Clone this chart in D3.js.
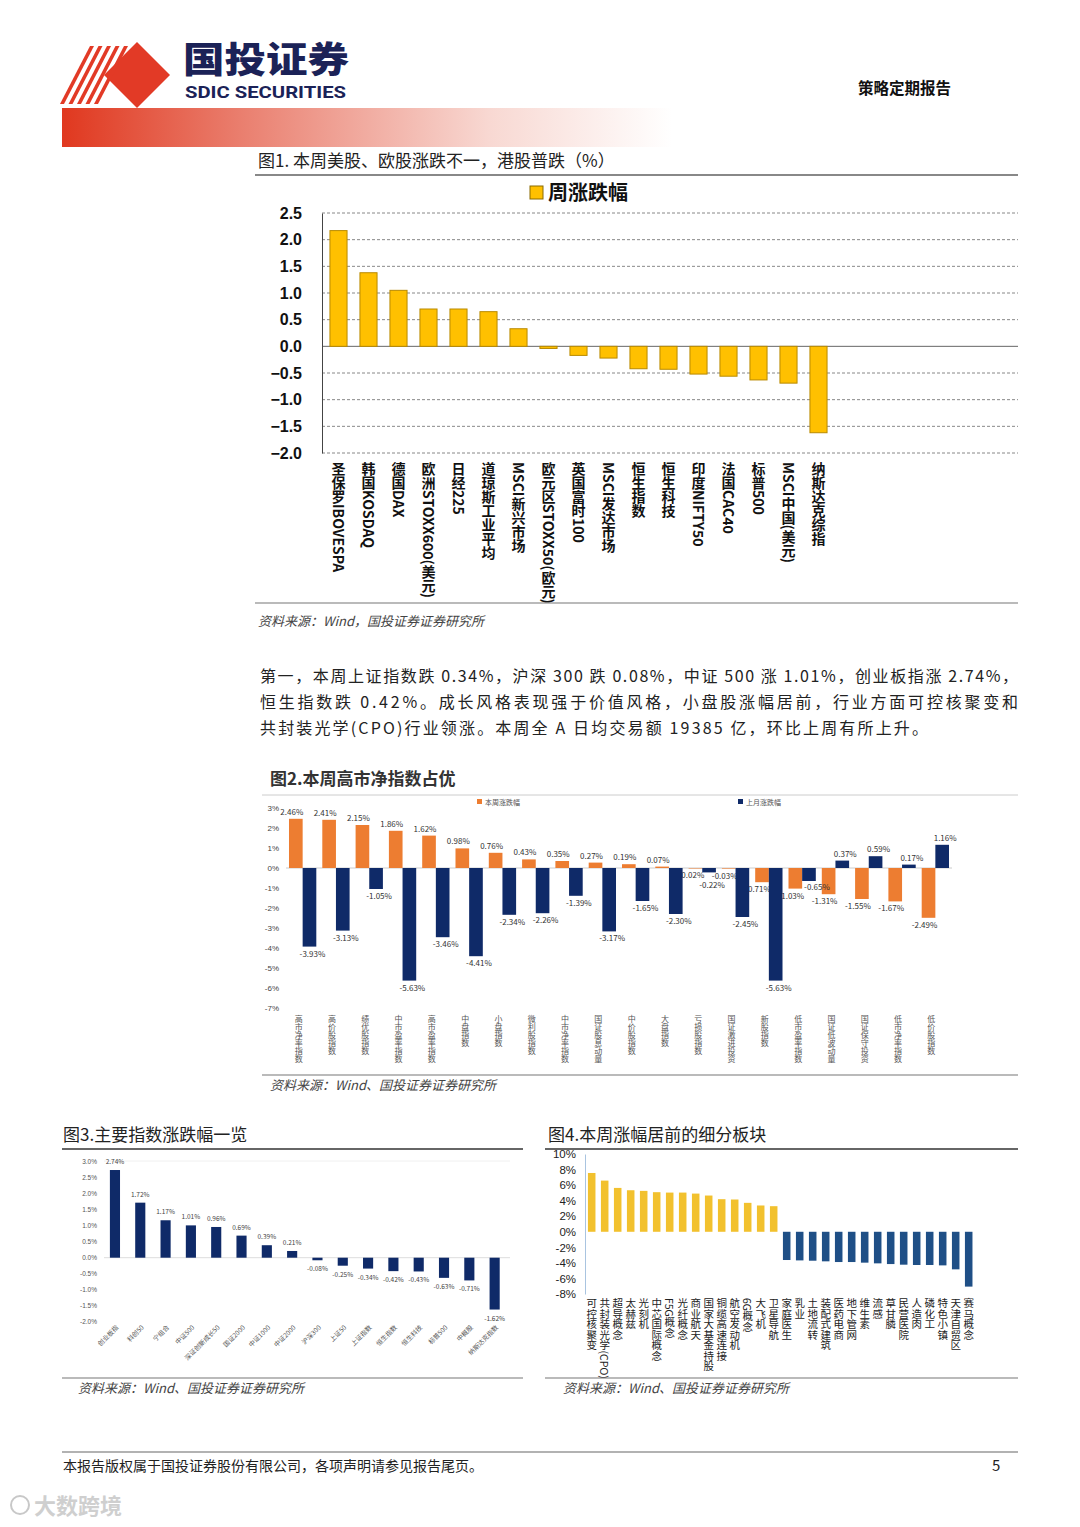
<!DOCTYPE html>
<html><head><meta charset="utf-8">
<script src="https://cdn.jsdelivr.net/npm/d3@7"></script>
<style>
body{margin:0;background:#fff;}
svg{display:block;font-family:"Noto Sans CJK SC","Noto Sans",sans-serif;}
.vt{writing-mode:vertical-rl;text-orientation:mixed;}
</style></head>
<body><svg id="pg" width="1080" height="1527"></svg>
<script>
// ---------- DATA ----------
const fig1Cats = ["圣保罗IBOVESPA","韩国KOSDAQ","德国DAX","欧洲STOXX600(美元)","日经225","道琼斯工业平均","MSCI新兴市场","欧元区STOXX50(欧元)","英国富时100","MSCI发达市场","恒生指数","恒生科技","印度NIFTY50","法国CAC40","标普500","MSCI中国(美元)","纳斯达克综指"];
const fig1Vals = [2.17,1.38,1.05,0.70,0.70,0.65,0.33,-0.04,-0.17,-0.22,-0.42,-0.43,-0.52,-0.56,-0.63,-0.69,-1.62];
const fig1Ticks = [2.5,2.0,1.5,1.0,0.5,0.0,-0.5,-1.0,-1.5,-2.0];

const fig2Cats = ["高市净率指数","高价股指数","绩优股指数","中市盈率指数","高市盈率指数","中盘指数","小盘指数","微利股指数","中市净率指数","国证股息动量","中价股指数","大盘指数","亏损股指数","国证激进投资","新股指数","低市盈率指数","国证低波动量","国证保守投资","低市净率指数","低价股指数"];
const fig2Week = [2.46,2.41,2.15,1.86,1.62,0.98,0.76,0.43,0.35,0.27,0.19,0.07,-0.02,-0.03,-0.71,-1.03,-1.31,-1.55,-1.67,-2.49];
const fig2Month = [-3.93,-3.13,-1.05,-5.63,-3.46,-4.41,-2.34,-2.26,-1.39,-3.17,-1.65,-2.30,-0.22,-2.45,-5.63,-0.65,0.37,0.59,0.17,1.16];
const fig2Ticks = [3,2,1,0,-1,-2,-3,-4,-5,-6,-7];
const fig2Series = ["本周涨跌幅","上月涨跌幅"];

const fig3Cats = ["创业板指","科创50","宁组合","中证500","深证创新成长50","国证2000","中证1000","中证2000","沪深300","上证50","上证指数","恒生指数","恒生科技","标普500","中概股","纳斯达克指数"];
const fig3Vals = [2.74,1.72,1.17,1.01,0.96,0.69,0.39,0.21,-0.08,-0.25,-0.34,-0.42,-0.43,-0.63,-0.71,-1.62];
const fig3Ticks = [3.0,2.5,2.0,1.5,1.0,0.5,0.0,-0.5,-1.0,-1.5,-2.0];

const fig4Cats = ["可控核聚变","共封装光学(CPO)","超导概念","太赫兹","光刻机","中芯国际概念","F5G概念","光纤概念","商业航天","国家大基金持股","铜缆高速连接","航空发动机","6G概念","大飞机","卫星导航","家庭医生","乳业","土地流转","装配式建筑","医药电商","地下管网","维生素","流感","草甘膦","民营医院","人造肉","磷化工","特色小镇","天津自贸区","赛马概念"];
const fig4Vals = [7.56,6.58,5.64,5.34,5.26,5.09,5.04,5.04,4.91,4.66,4.19,4.15,3.72,3.38,3.29,-3.63,-3.68,-3.72,-3.80,-3.89,-3.89,-3.97,-4.06,-4.15,-4.23,-4.27,-4.27,-4.32,-4.83,-7.05];
const fig4Ticks = [10,8,6,4,2,0,-2,-4,-6,-8];

// ---------- PAGE ----------
const svg = d3.select("#pg");
const defs = svg.append("defs");
const g1 = defs.append("linearGradient").attr("id","hdr").attr("x1","0").attr("x2","1");
g1.append("stop").attr("offset","0").attr("stop-color","#e0381f");
g1.append("stop").attr("offset","0.3").attr("stop-color","#ea8070");
g1.append("stop").attr("offset","0.7").attr("stop-color","#f8d8d2");
g1.append("stop").attr("offset","1").attr("stop-color","#ffffff");
svg.append("rect").attr("x",62).attr("y",108).attr("width",610).attr("height",39).attr("fill","url(#hdr)");

// logo
const logo = svg.append("g").attr("fill","#e23a26");
logo.append("path").attr("d","M137,42 L170,75 L137,108 L104,75 Z");
for(let i=0;i<5;i++){
  const o=i*8.5;
  logo.append("path").attr("d",`M${124-o},46 L${128-o},46 L${98-o},${104} L${94-o},${104} Z`);
}
svg.append("text").attr("x",183).attr("y",73).attr("font-size",36).attr("font-weight",900).attr("fill","#1b2257")
  .attr("textLength",166).attr("lengthAdjust","spacingAndGlyphs").text("国投证券");
svg.append("text").attr("x",185).attr("y",98).attr("font-size",16).attr("font-weight",700).attr("fill","#1b2257").attr("textLength",161).attr("lengthAdjust","spacingAndGlyphs").attr("font-family","Roboto,Arial").text("SDIC SECURITIES");
svg.append("text").attr("x",858).attr("y",94).attr("font-size",15.5).attr("font-weight",700).attr("fill","#111").text("策略定期报告");

// ---------- FIG 1 ----------
svg.append("text").attr("x",258).attr("y",167).attr("font-size",17).attr("fill","#222").text("图1. 本周美股、欧股涨跌不一，港股普跌（%）");
svg.append("line").attr("x1",255).attr("x2",1018).attr("y1",175).attr("y2",175).attr("stroke","#888").attr("stroke-width",2);
svg.append("rect").attr("x",530).attr("y",186).attr("width",13).attr("height",13).attr("fill","#FFC000").attr("stroke","#8a6a00");
svg.append("text").attr("x",548).attr("y",200).attr("font-size",20).attr("font-weight",700).attr("fill","#111").text("周涨跌幅");

const y1 = d3.scaleLinear().domain([-2,2.5]).range([453,213]);
const x1 = d3.scaleBand().domain(fig1Cats).range([323.5,833.5]).paddingInner(0.43).paddingOuter(0.215);
fig1Ticks.forEach(t=>{
  svg.append("line").attr("x1",322).attr("x2",1018).attr("y1",y1(t)).attr("y2",y1(t))
    .attr("stroke",t===0?"#666":"#888").attr("stroke-width",1).attr("stroke-dasharray",t===0?null:"3,2");
});
const ax1 = svg.append("g").attr("transform","translate(322,0)")
  .call(d3.axisLeft(y1).tickValues(fig1Ticks).tickFormat(d3.format(".1f")).tickSize(0).tickPadding(20));
ax1.select(".domain").attr("stroke","#444");
ax1.selectAll("text").attr("font-size",16).attr("font-weight",700).attr("fill","#111").attr("font-family","'Liberation Sans',Arial");
svg.append("g").selectAll("rect").data(fig1Vals).join("rect")
  .attr("x",(d,i)=>x1(fig1Cats[i])).attr("width",x1.bandwidth())
  .attr("y",d=>y1(Math.max(0,d))).attr("height",d=>Math.abs(y1(d)-y1(0)))
  .attr("fill","#FFC000").attr("stroke","#b98a00").attr("stroke-width",1);
svg.append("g").selectAll("text").data(fig1Cats).join("text").attr("class","vt")
  .attr("x",d=>x1(d)+x1.bandwidth()/2).attr("y",462)
  .attr("font-size",14).attr("font-weight",700).attr("fill","#111").text(d=>d);
svg.append("line").attr("x1",255).attr("x2",1018).attr("y1",603).attr("y2",603).attr("stroke","#777").attr("stroke-width",1.2);
svg.append("text").attr("x",258).attr("y",626).attr("font-size",13).attr("font-style","italic").attr("fill","#444").text("资料来源：Wind，国投证券证券研究所");

// paragraph
const para = [["第一，本周上证指数跌 0.34%，沪深 300 跌 0.08%，中证 500 涨 1.01%，创业板指涨 2.74%，",758],
              ["恒生指数跌 0.42%。成长风格表现强于价值风格，小盘股涨幅居前，行业方面可控核聚变和",758],
              ["共封装光学(CPO)行业领涨。本周全 A 日均交易额 19385 亿，环比上周有所上升。",668]];
para.forEach((p,i)=>{
  svg.append("text").attr("x",260).attr("y",682+i*26).attr("font-size",16).attr("fill","#222")
    .attr("textLength",p[1]).attr("lengthAdjust","spacing").text(p[0]);
});

// ---------- FIG 2 ----------
svg.append("text").attr("x",270).attr("y",785).attr("font-size",17).attr("font-weight",700).attr("fill","#333").text("图2.本周高市净指数占优");
svg.append("line").attr("x1",262).attr("x2",1018).attr("y1",795).attr("y2",795).attr("stroke","#ccc").attr("stroke-width",1);
const y2 = d3.scaleLinear().domain([-7,3]).range([1008,808]);
const x2 = d3.scaleBand().domain(fig2Cats).range([286,952]).paddingInner(0.18).paddingOuter(0.09);
const x2s = d3.scaleBand().domain(fig2Series).range([0,x2.bandwidth()]);
const colors2 = ["#ED7D31","#0f2a68"];
svg.append("line").attr("x1",286).attr("x2",952).attr("y1",y2(0)).attr("y2",y2(0)).attr("stroke","#ccc");
const ax2 = svg.append("g").attr("transform","translate(282,0)")
  .call(d3.axisLeft(y2).tickValues(fig2Ticks).tickFormat(d=>d+"%").tickSize(0).tickPadding(3));
ax2.select(".domain").remove();
ax2.selectAll("text").attr("font-size",8).attr("fill","#444");
const lblY = (d)=> d>=0 ? y2(d)-4 : y2(d)+10;
// month label placement avoids the week label of the same category
const monthPos = fig2Month.map((d,i)=>{
  const w = fig2Week[i], yw = lblY(w);
  let y = lblY(d), dx = 3;
  if(Math.sign(w)===Math.sign(d) && Math.abs(y-yw)<10){
    if(d<w){ y = yw+10; } else { y = yw-9; dx = 8; }
  }
  return {y,dx};
});
[fig2Week,fig2Month].forEach((arr,si)=>{
  const gg = svg.append("g");
  gg.selectAll("rect").data(arr).join("rect")
    .attr("x",(d,i)=>x2(fig2Cats[i])+x2s(fig2Series[si])).attr("width",x2s.bandwidth())
    .attr("y",d=>y2(Math.max(0,d))).attr("height",d=>Math.max(0.5,Math.abs(y2(d)-y2(0))))
    .attr("fill",colors2[si]);
  gg.selectAll("text").data(arr).join("text")
    .attr("x",(d,i)=>x2(fig2Cats[i])+x2s(fig2Series[si])+x2s.bandwidth()/2+(si===0?-4:monthPos[i].dx))
    .attr("y",(d,i)=> si===0 ? lblY(d) : monthPos[i].y)
    .attr("text-anchor","middle").attr("font-size",8).attr("fill","#333")
    .text(d=>d.toFixed(2)+"%");
});
svg.append("g").selectAll("text").data(fig2Cats).join("text").attr("class","vt")
  .attr("x",d=>x2(d)+x2.bandwidth()/2-4).attr("y",1015)
  .attr("font-size",8).attr("fill","#555").text(d=>d);
// legend
fig2Series.forEach((s,i)=>{
  const lx = i===0?477:738;
  svg.append("rect").attr("x",lx).attr("y",799).attr("width",5).attr("height",5).attr("fill",colors2[i]);
  svg.append("text").attr("x",lx+8).attr("y",805).attr("font-size",7).attr("fill","#555").text(s);
});
svg.append("line").attr("x1",262).attr("x2",1018).attr("y1",1075).attr("y2",1075).attr("stroke","#777").attr("stroke-width",1.2);
svg.append("text").attr("x",270).attr("y",1090).attr("font-size",13).attr("font-style","italic").attr("fill","#444").text("资料来源：Wind、国投证券证券研究所");

// ---------- FIG 3 ----------
svg.append("text").attr("x",63).attr("y",1141).attr("font-size",17).attr("fill","#222").text("图3.主要指数涨跌幅一览");
svg.append("line").attr("x1",62).attr("x2",523).attr("y1",1149).attr("y2",1149).attr("stroke","#333").attr("stroke-width",1.5);
const y3 = d3.scaleLinear().domain([-2,3]).range([1321.7,1161.7]);
const x3 = d3.scaleBand().domain(fig3Cats).range([102.3,507.3]).paddingInner(0.6).paddingOuter(0.3);
svg.append("line").attr("x1",104).attr("x2",510).attr("y1",y3(0)).attr("y2",y3(0)).attr("stroke","#ddd");
svg.append("line").attr("x1",104).attr("x2",510).attr("y1",1161).attr("y2",1161).attr("stroke","#f0f0f0");
const ax3 = svg.append("g").attr("transform","translate(97,0)")
  .call(d3.axisLeft(y3).tickValues(fig3Ticks).tickFormat(d=>d.toFixed(1)+"%").tickSize(0).tickPadding(0));
ax3.select(".domain").remove();
ax3.selectAll("text").attr("font-size",6.5).attr("fill","#555");
svg.append("g").selectAll("rect").data(fig3Vals).join("rect")
  .attr("x",(d,i)=>x3(fig3Cats[i])).attr("width",x3.bandwidth())
  .attr("y",d=>y3(Math.max(0,d))).attr("height",d=>Math.abs(y3(d)-y3(0)))
  .attr("fill","#0f2a68");
svg.append("g").selectAll("text").data(fig3Vals).join("text")
  .attr("x",(d,i)=>x3(fig3Cats[i])+x3.bandwidth()/2).attr("y",d=>d>=0?y3(d)-6:y3(d)+11)
  .attr("text-anchor","middle").attr("font-size",6.5).attr("fill","#444").text(d=>d.toFixed(2)+"%");
svg.append("g").selectAll("text").data(fig3Cats).join("text")
  .attr("transform",d=>`translate(${x3(d)+x3.bandwidth()/2+4},1328) rotate(-45)`)
  .attr("text-anchor","end").attr("font-size",6.5).attr("fill","#555").text(d=>d);
svg.append("line").attr("x1",62).attr("x2",523).attr("y1",1378).attr("y2",1378).attr("stroke","#777").attr("stroke-width",1.2);
svg.append("text").attr("x",78).attr("y",1393).attr("font-size",13).attr("font-style","italic").attr("fill","#444").text("资料来源：Wind、国投证券证券研究所");

// ---------- FIG 4 ----------
svg.append("text").attr("x",548).attr("y",1141).attr("font-size",17).attr("fill","#222").text("图4.本周涨幅居前的细分板块");
svg.append("line").attr("x1",545).attr("x2",1018).attr("y1",1149).attr("y2",1149).attr("stroke","#333").attr("stroke-width",1.5);
const y4 = d3.scaleLinear().domain([-8,10]).range([1294,1154]);
const x4 = d3.scaleBand().domain(fig4Cats).range([585.2,975.2]).paddingInner(0.42).paddingOuter(0.21);
const ax4 = svg.append("g").attr("transform","translate(585,0)")
  .call(d3.axisLeft(y4).tickValues(fig4Ticks).tickFormat(d=>d+"%").tickSize(0).tickPadding(9));
ax4.select(".domain").attr("stroke","#a9c4e0");
ax4.selectAll("text").attr("font-size",11.5).attr("fill","#222").attr("font-family","'Liberation Sans',Arial");
svg.append("g").selectAll("rect").data(fig4Vals).join("rect")
  .attr("x",(d,i)=>x4(fig4Cats[i])).attr("width",x4.bandwidth())
  .attr("y",d=>y4(Math.max(0,d))).attr("height",d=>Math.abs(y4(d)-y4(0)))
  .attr("fill",d=>d>=0?"#F2C12E":"#1f4f86");
svg.append("g").selectAll("text").data(fig4Cats).join("text").attr("class","vt")
  .attr("x",d=>x4(d)+x4.bandwidth()/2).attr("y",1298)
  .attr("font-size",10.5).attr("fill","#222").text(d=>d);
svg.append("line").attr("x1",545).attr("x2",1018).attr("y1",1378).attr("y2",1378).attr("stroke","#777").attr("stroke-width",1.2);
svg.append("text").attr("x",563).attr("y",1393).attr("font-size",13).attr("font-style","italic").attr("fill","#444").text("资料来源：Wind、国投证券证券研究所");

// ---------- FOOTER ----------
svg.append("line").attr("x1",62).attr("x2",1018).attr("y1",1452).attr("y2",1452).attr("stroke","#999").attr("stroke-width",1.5);
svg.append("text").attr("x",63).attr("y",1471).attr("font-size",14).attr("fill","#222").text("本报告版权属于国投证券股份有限公司，各项声明请参见报告尾页。");
svg.append("text").attr("x",992).attr("y",1471).attr("font-size",15).attr("fill","#222").text("5");
svg.append("circle").attr("cx",20).attr("cy",1505).attr("r",9).attr("fill","none").attr("stroke","#c8c8c8").attr("stroke-width",2);
svg.append("text").attr("x",34).attr("y",1514).attr("font-size",22).attr("fill","#cfcfcf").attr("font-weight",700).text("大数跨境");
</script></body></html>
